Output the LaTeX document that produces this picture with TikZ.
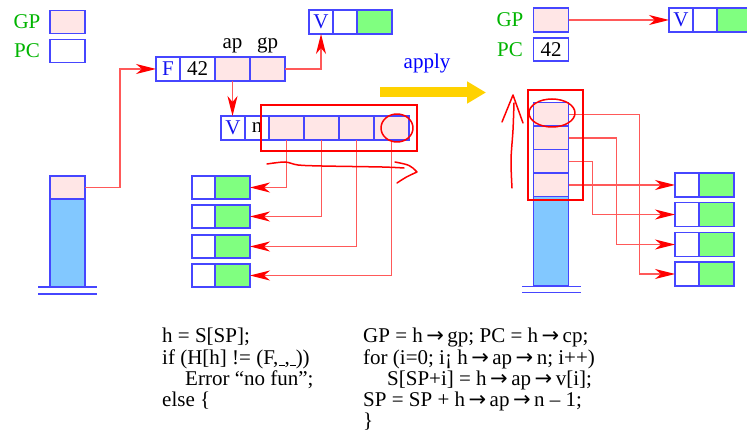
\documentclass[tikz,border=0pt]{standalone}
\usepackage{fontspec}
\setmainfont{Liberation Serif}
\newfontfamily\arrowfont{DejaVu Sans}
\newcommand\harrow{{\arrowfont\,→\,}}
\usetikzlibrary{arrows.meta,positioning}
\definecolor{cblue}{RGB}{70,70,255}
\definecolor{tagblue}{RGB}{20,20,240}
\definecolor{cpink}{RGB}{255,230,230}
\definecolor{cgreen}{RGB}{128,255,128}
\definecolor{csky}{RGB}{130,200,255}
\definecolor{cyellow}{RGB}{255,210,0}
\definecolor{reggreen}{RGB}{0,180,0}
\begin{document}
\begin{tikzpicture}[x=1pt, y=-1pt, font=\fontsize{21}{21.3}\selectfont, cell/.style={draw=cblue, line width=1.5pt, minimum height=24pt, inner sep=0pt, outer sep=0pt}, tag/.style={cell, minimum width=24pt, text=tagblue}, slot/.style={cell, minimum width=35pt}, arr/.style={draw=red!65, line width=1.3pt, -{Stealth[red, length=20pt, width=10pt, inset=6pt]}}, hilite/.style={draw=red, line width=2.2pt}, scribble/.style={draw=red, line width=1.5pt, line cap=round, line join=round}, reg/.style={text=reggreen}, code/.style={anchor=north west, align=left, inner sep=0pt}]
\useasboundingbox (0,0) rectangle (747,438);
\node[reg] (gpName) at (27,22) {GP};
\node[slot, fill=cpink, minimum height=23pt] (gpBox) at (67.5,22) {};
\node[reg] (pcName) at (27,51) {PC};
\node[slot, minimum height=23pt] (pcBox) at (67.5,51) {};
\node[tag] (fTag) at (168,69) {F};
\node[slot, right=0pt of fTag] (fCode) {42};
\node[slot, right=0pt of fCode, fill=cpink] (fAp) {};
\node[slot, right=0pt of fAp, fill=cpink] (fGp) {};
\node[above=0pt of fAp] (apName) {ap};
\node[above=0pt of fGp] (gpName2) {gp};
\node[tag] (gvTag) at (321,22) {V};
\node[tag, right=0pt of gvTag] (gvMid) {};
\node[slot, right=0pt of gvMid, fill=cgreen] (gvVal) {};
\node[tag] (vTag) at (233,128) {V};
\node[tag, right=0pt of vTag, text=black] (vN) {n};
\node[slot, right=0pt of vN, fill=cpink] (v1) {};
\node[slot, right=0pt of v1, fill=cpink] (v2) {};
\node[slot, right=0pt of v2, fill=cpink] (v3) {};
\node[slot, right=0pt of v3, fill=cpink] (v4) {};
\node[cell, minimum width=23pt, minimum height=23pt] (lw1) at (203.5,187.5) {};
\node[slot, right=0pt of lw1, fill=cgreen, minimum height=23pt] (lg1) {};
\node[cell, minimum width=23pt, minimum height=23pt] (lw2) at (203.5,216.5) {};
\node[slot, right=0pt of lw2, fill=cgreen, minimum height=23pt] (lg2) {};
\node[cell, minimum width=23pt, minimum height=23pt] (lw3) at (203.5,246.5) {};
\node[slot, right=0pt of lw3, fill=cgreen, minimum height=23pt] (lg3) {};
\node[cell, minimum width=23pt, minimum height=23pt] (lw4) at (203.5,275.5) {};
\node[slot, right=0pt of lw4, fill=cgreen, minimum height=23pt] (lg4) {};
\node[slot, fill=cpink, minimum height=23pt] (lsTop) at (67.5,187.5) {};
\node[slot, fill=csky, minimum height=88pt, below=0pt of lsTop] (lsBody) {};
\draw[cblue, line width=1.3pt] (38,287) -- (97,287) (38,294) -- (97,294);
\draw[arr] (lsTop.east) -- ++(35,0) |- (fTag.west);
\draw[arr] (fGp.east) -| (gvTag.south);
\draw[arr] (fAp.south) -- (fAp.south |- vTag.north);
\draw[arr] (v1.south) |- (lg1.east);
\draw[arr] (v2.south) |- (lg2.east);
\draw[arr] (v3.south) |- (lg3.east);
\draw[arr] (v4.south) |- (lg4.east);
\draw[hilite] (261,105) rectangle (417,151);
\draw[scribble] (397,128) ellipse [x radius=16pt, y radius=14pt];
\draw[scribble] plot[smooth] coordinates {(267,164) (285,162) (298,165) (322,166) (382,167) (404,168)};
\draw[scribble] (395,162) .. controls (410,165) .. (417,172) .. controls (406,177) .. (397,183);
\node[text=blue] (applyName) at (427,63) {apply};
\coordinate (applyFrom) at (380,92.5);
\coordinate (applyTo) at (486,92.5);
\draw[cyellow, line width=10pt, -{Triangle[length=19pt, width=21pt]}] (applyFrom) -- (applyTo);
\node[reg] (gpName3) at (510,20) {GP};
\node[slot, fill=cpink] (gpBox2) at (551,20) {};
\node[reg] (pcName2) at (510,49.5) {PC};
\node[slot, minimum height=23pt] (pcBox2) at (551,49.5) {42};
\node[tag] (hvTag) at (681,20) {V};
\node[tag, right=0pt of hvTag] (hvMid) {};
\node[slot, right=0pt of hvMid, fill=cgreen] (hvVal) {};
\draw[arr] (gpBox2.east) -- (hvTag.west);
\node[slot, fill=cpink, minimum height=23.5pt] (s1) at (551,114.5) {};
\node[slot, fill=cpink, minimum height=23.5pt, below=0pt of s1] (s2) {};
\node[slot, fill=cpink, minimum height=23.5pt, below=0pt of s2] (s3) {};
\node[slot, fill=cpink, minimum height=23.5pt, below=0pt of s3] (s4) {};
\node[slot, fill=csky, minimum height=89pt, below=0pt of s4] (rsBody) {};
\draw[cblue, line width=1.3pt] (522,286.5) -- (581,286.5) (522,292.5) -- (581,292.5);
\node[tag] (rw1) at (687,185) {};
\node[slot, right=0pt of rw1, fill=cgreen] (rg1) {};
\node[tag] (rw2) at (687,214.5) {};
\node[slot, right=0pt of rw2, fill=cgreen] (rg2) {};
\node[tag] (rw3) at (687,244.5) {};
\node[slot, right=0pt of rw3, fill=cgreen] (rg3) {};
\node[tag] (rw4) at (687,274) {};
\node[slot, right=0pt of rw4, fill=cgreen] (rg4) {};
\draw[arr] (s1.east) -- ++(71,0) |- (rw4.west);
\draw[arr] (s2.east) -- ++(48,0) |- (rw3.west);
\draw[arr] (s3.east) -- ++(24,0) |- (rw2.west);
\draw[arr] (s4.east) -- (rw1.west);
\draw[hilite] (528,90) rectangle (583,200);
\draw[scribble] (552,113) ellipse [x radius=23pt, y radius=14pt];
\draw[scribble] plot[smooth] coordinates {(512,188) (511,160) (513,130) (514,103)};
\draw[scribble] (502,122) -- (513,95) -- (523,123);
\node[code] (codeLeft) at (162,328) {h = S[SP];\\if (H[h] != (F,\rule[-1.5pt]{6pt}{0.8pt},\rule[-1.5pt]{6pt}{0.8pt}))\\\hspace*{23pt}Error ``no fun'';\\else \{};
\node[code] (codeRight) at (363,328) {GP = h\harrow gp; PC = h\harrow cp;\\for (i=0; i¡ h\harrow ap\harrow n; i++)\\\hspace*{24pt}S[SP+i] = h\harrow ap\harrow v[i];\\SP = SP + h\harrow ap\harrow n -- 1;\\\}};
\end{tikzpicture}
\end{document}
